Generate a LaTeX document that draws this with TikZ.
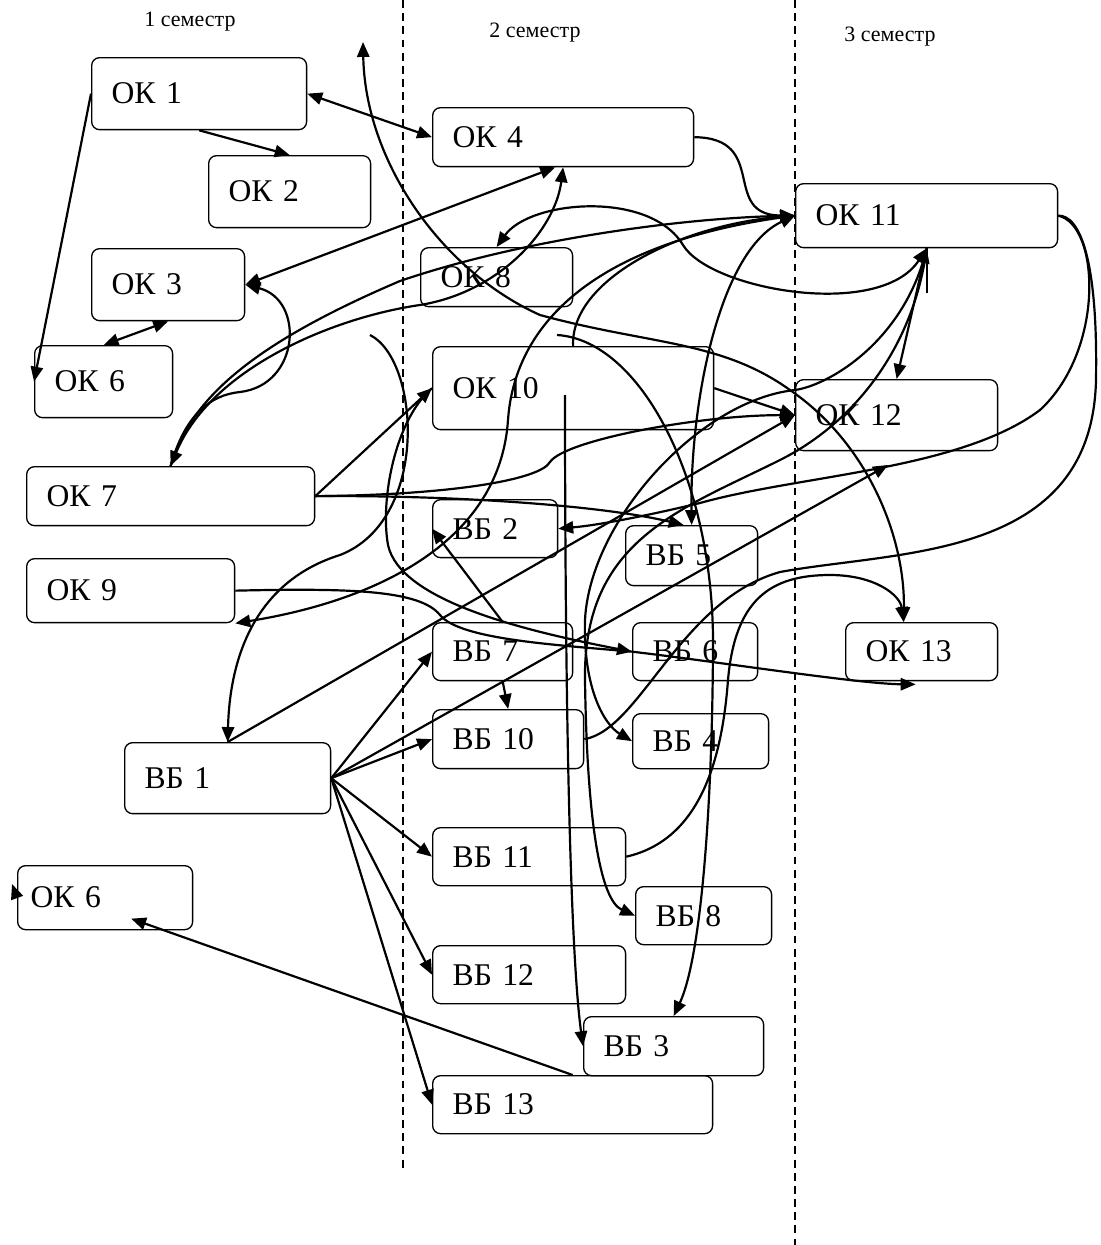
\documentclass[tikz,border=0pt]{standalone}
\usepackage{fontspec}
\setmainfont{Liberation Serif}
\usetikzlibrary{arrows.meta}

\begin{document}
\begin{tikzpicture}[x=0.02cm,y=-0.02cm,>={Triangle[length=8.5pt,width=7pt]},
  kbox/.style={draw,line width=0.75pt,rounded corners=4.5pt,anchor=north west,
    align=left,inner xsep=0.4cm,inner ysep=0pt,font=\fontsize{18}{20}\selectfont},
  link/.style={line width=1.25pt},
  sem/.style={font=\fontsize{12.5}{14}\selectfont},
  border/.style={line width=0.75pt,dash pattern=on 4.5pt off 3pt}]
\useasboundingbox (0,0) rectangle (1100,1245);
% semesters
\node[sem] (s1) at (190,22) {1 семестр};
\node[sem] (s2) at (535,33) {2 семестр};
\node[sem] (s3) at (890,37) {3 семестр};
\draw[border] (403,0) -- (403,1168);
\draw[border] (795,0) -- (795,1245);
% first column
\node[kbox,text width=3.5cm,minimum height=1.44cm] (ok1) at (91,57) {ОК 1};
\node[kbox,text width=2.44cm,minimum height=1.44cm] (ok2) at (208,155) {ОК 2};
\node[kbox,text width=2.26cm,minimum height=1.44cm] (ok3) at (91,248) {ОК 3};
\node[kbox,text width=1.96cm,minimum height=1.44cm] (ok6a) at (34,345) {ОК 6};
\node[kbox,text width=4.96cm,minimum height=1.18cm] (ok7) at (26,466) {ОК 7};
\node[kbox,text width=3.36cm,minimum height=1.28cm] (ok9) at (26,558) {ОК 9};
\node[kbox,text width=3.32cm,minimum height=1.42cm] (vb1) at (124,742) {ВБ 1};
\node[kbox,text width=2.98cm,minimum height=1.28cm,inner xsep=0.26cm] (ok6b) at (17,865) {ОК 6};
% second column
\node[kbox,text width=4.42cm,minimum height=1.18cm] (ok4) at (432,107) {ОК 4};
\node[kbox,text width=2.24cm,minimum height=1.18cm] (ok8) at (420,247) {ОК 8};
\node[kbox,text width=4.82cm,minimum height=1.66cm] (ok10) at (432,346) {ОК 10};
\node[kbox,text width=1.7cm,minimum height=1.16cm] (vb2) at (432,499) {ВБ 2};
\node[kbox,text width=2.0cm,minimum height=1.16cm] (vb7) at (432,622) {ВБ 7};
\node[kbox,text width=2.22cm,minimum height=1.18cm] (vb10) at (432,709) {ВБ 10};
\node[kbox,text width=3.06cm,minimum height=1.16cm] (vb11) at (432,827) {ВБ 11};
\node[kbox,text width=3.06cm,minimum height=1.16cm] (vb12) at (432,945) {ВБ 12};
\node[kbox,text width=4.8cm,minimum height=1.16cm] (vb13) at (432,1075) {ВБ 13};
\node[kbox,text width=1.84cm,minimum height=1.2cm] (vb5) at (625,525) {ВБ 5};
\node[kbox,text width=1.7cm,minimum height=1.16cm] (vb6) at (632,622) {ВБ 6};
\node[kbox,text width=1.92cm,minimum height=1.1cm] (vb4) at (632,713) {ВБ 4};
\node[kbox,text width=1.92cm,minimum height=1.16cm] (vb8) at (635,886) {ВБ 8};
\node[kbox,text width=2.8cm,minimum height=1.18cm] (vb3) at (583,1016) {ВБ 3};
% third column
\node[kbox,text width=4.44cm,minimum height=1.28cm] (ok11) at (795,183) {ОК 11};
\node[kbox,text width=3.24cm,minimum height=1.42cm] (ok12) at (795,379) {ОК 12};
\node[kbox,text width=2.24cm,minimum height=1.16cm] (ok13) at (845,622) {ОК 13};
% free ends
\coordinate (topend) at (363,42);
\coordinate (arcstart) at (370,335);
\coordinate (midstart) at (557,335);
\coordinate (ok10in) at (565,395);
\coordinate (ok12tip) at (888,465);
\coordinate (ok6tip) at (12,884);
% links of the first column
\draw[link,<->] (ok1.east) -- (ok4.west);
\draw[link,->] (ok1.south) -- (ok2.north);
\draw[link,->] (ok1.west) -- (ok6a.west);
\draw[link,<->] (ok3.south) -- (ok6a.north);
\draw[link,<->] (ok3.east) -- ([xshift=-0.16cm]ok4.south);
\draw[link,->] (ok7.north) .. controls (185,415) and (210,395) .. (240,392) .. controls (300,385) and (305,300) .. (ok3.east);
\draw[link,<->] (ok7.north) .. controls (210,370) and (330,318) .. (420,305) .. controls (500,292) and (555,230) .. (ok4.south);
\draw[link,->] (ok7.north) .. controls (190,400) and (250,345) .. (400,281) .. controls (520,240) and (680,218) .. (ok11.west);
\draw[link,->] (ok7.east) -- (ok10.west);
\draw[link,->] (ok7.east) .. controls (450,495) and (540,480) .. (550,462) .. controls (565,440) and (700,415) .. (ok12.west);
\draw[link,->] (ok7.east) .. controls (450,495) and (600,505) .. ([xshift=-0.16cm]vb5.north);
\draw[link,->] (ok9.east) .. controls (350,588) and (420,590) .. (440,615) .. controls (460,640) and (560,645) .. (vb6.west) .. controls (720,662) and (860,684) .. ([xshift=-0.12cm,yshift=-0.06cm]ok13.south);
\draw[link,->] (arcstart) .. controls (420,360) and (430,520) .. (340,555) .. controls (260,580) and (230,650) .. (vb1.north);
% links of ВБ 1
\draw[link,->] (vb1.north) -- (ok12.west);
\draw[link,->] (vb1.east) -- (ok12tip);
\draw[link,->] (vb1.east) -- (vb7.west);
\draw[link,->] (vb1.east) -- (vb10.west);
\draw[link,->] (vb1.east) -- (vb11.west);
\draw[link,->] (vb1.east) -- (vb12.west);
\draw[link,->] (vb1.east) -- (vb13.west);
\draw[link,->] (vb13.north) -- ([xshift=0.52cm,yshift=-0.42cm]ok6b.center);
\draw[link,->] (ok6b.west) -- (ok6tip);
% links of the second column
\draw[link,->] (ok4.east) .. controls (770,138) and (720,215) .. (ok11.west);
\draw[link,<->] (ok8.north) .. controls (530,200) and (650,190) .. (683,245) .. controls (710,290) and (880,320) .. (ok11.south);
\draw[link,<->] (topend) .. controls (365,160) and (440,270) .. (540,315) .. controls (650,345) and (720,340) .. (790,390) .. controls (870,445) and (905,540) .. ([xshift=-0.36cm]ok13.north);
\draw[link,->] (ok10.north) .. controls (570,280) and (680,225) .. (ok11.west);
\draw[link,->] (ok10.east) -- (ok12.west);
\draw[link,->] (ok10.west) .. controls (395,420) and (380,500) .. (388,545) .. controls (400,600) and (520,630) .. (vb6.west);
\draw[link,->] (ok10in) .. controls (565,700) and (570,950) .. (vb3.west);
\draw[link,->] (midstart) .. controls (640,340) and (715,480) .. (713,650) .. controls (712,820) and (700,960) .. (vb3.north);
\draw[link,->] (vb7.south) -- (vb10.north);
\draw[link,->] (vb7.north) -- (vb2.west);
\draw[link,->] (vb11.east) .. controls (700,840) and (722,760) .. (728,680) .. controls (735,600) and (770,575) .. (830,575) .. controls (875,575) and (900,595) .. ([xshift=-0.36cm]ok13.north);
\draw[link] (vb10.east) .. controls (640,730) and (680,600) .. (780,572) .. controls (900,550) and (1092,560) .. (1096,380) .. controls (1098,260) and (1080,215) .. (ok11.east);
% links of the third column
\draw[link,<->] (ok11.west) .. controls (720,250) and (690,400) .. (vb5.north);
\draw[link,->] (ok11.west) .. controls (600,240) and (515,320) .. (508,420) .. controls (500,540) and (380,600) .. (ok9.south east);
\draw[link,->] (ok11.east) .. controls (1100,225) and (1105,350) .. (1040,410) .. controls (960,470) and (800,475) .. (700,503) .. controls (650,515) and (600,525) .. (vb2.east);
\draw[link,->] (ok11.south) .. controls (905,340) and (830,385) .. (795,390) .. controls (700,400) and (590,520) .. (585,620) .. controls (583,690) and (605,725) .. (vb4.west);
\draw[link,->] (ok11.south) .. controls (915,340) and (860,420) .. (780,460) .. controls (680,510) and (583,540) .. (585,680) .. controls (587,820) and (600,900) .. (vb8.west);
\draw[link,<->] (ok11.south) -- (ok12.north);
\draw[link] (ok11.south) -- ++(0,45);
\end{tikzpicture}
\end{document}
